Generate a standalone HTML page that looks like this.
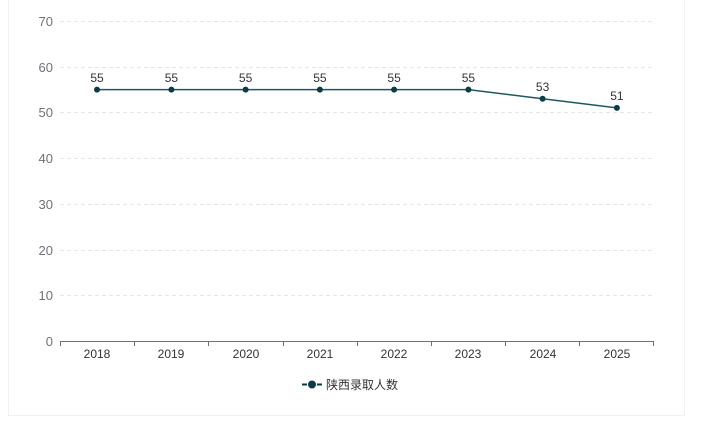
<!DOCTYPE html>
<html><head><meta charset="utf-8"><style>
html,body{margin:0;padding:0;background:#fff;width:702px;height:422px;overflow:hidden}
.card{position:absolute;left:8px;top:-2px;width:677px;height:418px;border:1px solid #eef1f3;box-sizing:border-box;background:#fff}
svg{position:absolute;left:0;top:0}
text{font-family:"Liberation Sans","Noto Sans CJK SC",sans-serif}
</style></head><body>
<div class="card"></div>
<svg width="702" height="422" viewBox="0 0 702 422">
<g stroke="#e6e6e6" stroke-dasharray="4,3" stroke-width="1">
<line x1="60" y1="21.5" x2="654" y2="21.5"/>
<line x1="60" y1="67.5" x2="654" y2="67.5"/>
<line x1="60" y1="112.5" x2="654" y2="112.5"/>
<line x1="60" y1="158.5" x2="654" y2="158.5"/>
<line x1="60" y1="204.5" x2="654" y2="204.5"/>
<line x1="60" y1="250.5" x2="654" y2="250.5"/>
<line x1="60" y1="295.5" x2="654" y2="295.5"/>
</g>
<g fill="#6e7079" font-size="13" text-anchor="end">
<text x="53" y="26">70</text>
<text x="53" y="72">60</text>
<text x="53" y="117">50</text>
<text x="53" y="163">40</text>
<text x="53" y="209">30</text>
<text x="53" y="255">20</text>
<text x="53" y="300">10</text>
<text x="53" y="346">0</text>
</g>
<line x1="60" y1="341.5" x2="654" y2="341.5" stroke="#6e7079" stroke-width="1"/>
<g stroke="#6e7079" stroke-width="1">
<line x1="60.5" y1="341" x2="60.5" y2="346"/>
<line x1="134.5" y1="341" x2="134.5" y2="346"/>
<line x1="208.5" y1="341" x2="208.5" y2="346"/>
<line x1="283.5" y1="341" x2="283.5" y2="346"/>
<line x1="357.5" y1="341" x2="357.5" y2="346"/>
<line x1="431.5" y1="341" x2="431.5" y2="346"/>
<line x1="505.5" y1="341" x2="505.5" y2="346"/>
<line x1="579.5" y1="341" x2="579.5" y2="346"/>
<line x1="653.5" y1="341" x2="653.5" y2="346"/>
</g>
<g fill="#333" font-size="12" text-anchor="middle">
<text x="97" y="358">2018</text>
<text x="171" y="358">2019</text>
<text x="246" y="358">2020</text>
<text x="320" y="358">2021</text>
<text x="394" y="358">2022</text>
<text x="468" y="358">2023</text>
<text x="543" y="358">2024</text>
<text x="617" y="358">2025</text>
</g>
<polyline fill="none" stroke="#1d5862" stroke-width="1.5" points="97,89.6 171.4,89.6 245.6,89.6 319.9,89.6 394.1,89.6 468.4,89.6 542.6,98.7 616.9,107.9"/>
<g fill="#0b3d46">
<circle cx="97" cy="89.6" r="3"/>
<circle cx="171.4" cy="89.6" r="3"/>
<circle cx="245.6" cy="89.6" r="3"/>
<circle cx="319.9" cy="89.6" r="3"/>
<circle cx="394.1" cy="89.6" r="3"/>
<circle cx="468.4" cy="89.6" r="3"/>
<circle cx="542.6" cy="98.7" r="3"/>
<circle cx="616.9" cy="107.9" r="3"/>
</g>
<g fill="#333" font-size="12" text-anchor="middle">
<text x="97" y="82">55</text>
<text x="171.4" y="82">55</text>
<text x="245.6" y="82">55</text>
<text x="319.9" y="82">55</text>
<text x="394.1" y="82">55</text>
<text x="468.4" y="82">55</text>
<text x="542.6" y="91">53</text>
<text x="616.9" y="100">51</text>
</g>
<line x1="302" y1="384.5" x2="322" y2="384.5" stroke="#0b3d46" stroke-width="2"/>
<line x1="306" y1="384.5" x2="318" y2="384.5" stroke="#fff" stroke-width="2" stroke-dasharray="0"/>
<line x1="302" y1="384.5" x2="307" y2="384.5" stroke="#0b3d46" stroke-width="2"/>
<line x1="317" y1="384.5" x2="322" y2="384.5" stroke="#0b3d46" stroke-width="2"/>
<circle cx="312" cy="384.5" r="4" fill="#0b3d46"/>
<text x="326" y="389" font-size="12" fill="#333">陕西录取人数</text>
</svg>
</body></html>
